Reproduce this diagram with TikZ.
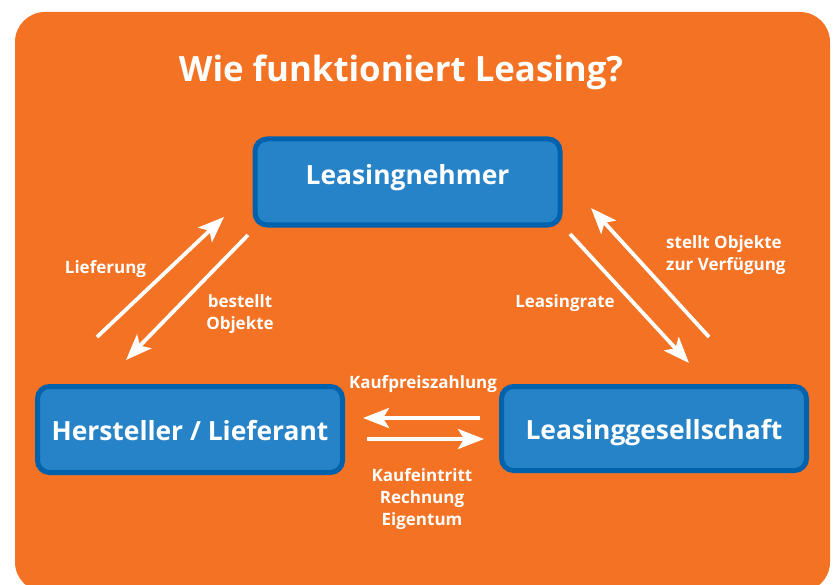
\documentclass[tikz,border=0pt]{standalone}
\usepackage{fontspec}
\setsansfont{Open Sans}
\usetikzlibrary{arrows.meta}
\definecolor{bgorange}{RGB}{243,114,35}
\definecolor{boxblue}{RGB}{39,131,199}
\definecolor{boxborder}{RGB}{0,98,172}
\begin{document}
\begin{tikzpicture}[x=1pt,y=-1pt,
  box/.style={draw=boxborder, fill=boxblue, line width=5pt, rounded corners=12pt,
    minimum width=305pt, minimum height=86pt, text=white, inner sep=0pt,
    font=\sffamily\bfseries\fontsize{26.4}{32}\selectfont, text height=21pt, text depth=0pt},
  flow/.style={draw=white, line width=3.8pt, -{Stealth[length=26pt,width=20pt,inset=6pt]}},
  lbl/.style={text=white, font=\sffamily\bfseries\fontsize{17}{22}\selectfont, inner sep=0pt},
  titlestyle/.style={text=white, font=\sffamily\bfseries\fontsize{34.8}{40}\selectfont, inner sep=0pt}
]
\useasboundingbox (0,0) rectangle (834,585);
\clip (0,0) rectangle (834,585);
\fill[white] (0,0) rectangle (834,585);
\fill[bgorange, rounded corners=30pt] (15,12) rectangle (830,592);

\node[titlestyle, anchor=base] (title) at (401,82) {Wie funktioniert Leasing?};

\node[box, text depth=15pt] (ln) at (407.5,182) {Leasingnehmer};
\node[box] (hl) at (190,429.5) {Hersteller / Lieferant};
\node[box, minimum height=84pt] (lg) at (654,428.5) {Leasinggesellschaft};

% arrow end points
\coordinate (a1s) at (97,337);  \coordinate (a1e) at (224,217);
\coordinate (a2s) at (248,235); \coordinate (a2e) at (126,360);
\coordinate (a3s) at (570,234); \coordinate (a3e) at (689,363);
\coordinate (a4s) at (709,337); \coordinate (a4e) at (591,208);
\coordinate (a5s) at (480,418); \coordinate (a5e) at (363,418);
\coordinate (a6s) at (367,439); \coordinate (a6e) at (484,439);

\draw[flow] (a1s) -- (a1e);
\draw[flow] (a2s) -- (a2e);
\draw[flow] (a3s) -- (a3e);
\draw[flow] (a4s) -- (a4e);
\draw[flow] (a5s) -- (a5e);
\draw[flow] (a6s) -- (a6e);

% for multi-line nodes the base anchor is the baseline of the last line
\node[lbl, anchor=base] (l1) at (105.5,273) {Lieferung};
\node[lbl, anchor=base, align=center] (l2) at (240,329) {bestellt\\Objekte};
\node[lbl, anchor=base] (l3) at (565,307) {Leasingrate};
\node[lbl, anchor=base west, align=left] (l4) at (666,270) {stellt Objekte\\zur Verfügung};
\node[lbl, anchor=base] (l5) at (423,388) {Kaufpreiszahlung};
\node[lbl, anchor=base, align=center] (l6) at (422,525) {Kaufeintritt\\Rechnung\\Eigentum};
\end{tikzpicture}
\end{document}
